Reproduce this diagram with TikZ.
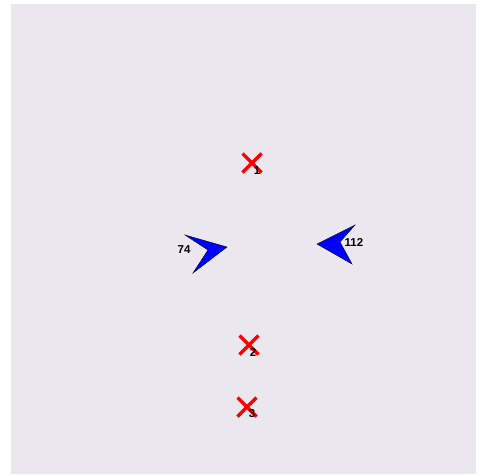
\documentclass[tikz,border=0pt]{standalone}
\usepackage{fontspec}
\setmainfont{Liberation Sans}
\usetikzlibrary{calc}
\definecolor{bg}{RGB}{234,232,238}
\definecolor{arrblue}{RGB}{0,0,255}
\tikzset{
  xmark/.style={draw=red, line width=3.4pt},
  lbl/.style={font=\fontsize{11.5}{12}\selectfont\bfseries, inner sep=0pt, text=black},
  dart/.style={fill=arrblue, draw=black, line width=0.4pt, line join=miter}
}
\begin{document}
\begin{tikzpicture}[x=1pt,y=-1pt]
\useasboundingbox (0,0) rectangle (482,474);
\fill[bg] (11,4) rectangle (476,474);
% X markers
\coordinate (m1) at (252,163);
\coordinate (m2) at (249,345);
\coordinate (m3) at (247,407);
\foreach \m in {m1,m2,m3}{
  \draw[xmark] ($(\m)+(-9.5,-9.5)$) -- ($(\m)+(9.5,9.5)$);
  \draw[xmark] ($(\m)+(-9.5,9.5)$) -- ($(\m)+(9.5,-9.5)$);
}
\node[lbl] (l1) at (257,171) {1};
\node[lbl] (l2) at (253,352) {2};
\node[lbl] (l3) at (252,414) {3};
% darts
\draw[dart] (185,235) -- (227,247) -- (193,273) -- (208,250) -- cycle;
\node[lbl] (a74) at (184,250) {74};
\draw[dart] (317,244) -- (355,225) -- (340,242) -- (352,264) -- cycle;
\node[lbl] (a112) at (354,242) {112};
\end{tikzpicture}
\end{document}
